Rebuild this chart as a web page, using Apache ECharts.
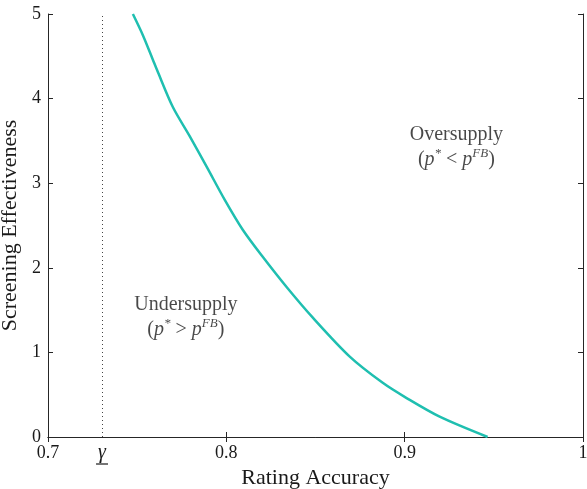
<!DOCTYPE html>
<html>
<head>
<meta charset="utf-8">
<script src="https://cdn.jsdelivr.net/npm/echarts@6/dist/echarts.min.js"></script>
<style>
  html, body { margin: 0; padding: 0; background: #fff; }
  #main { width: 587px; height: 489px; }
</style>
</head>
<body>
<div id="main"></div>
<script>
// threshold curve
const accuracy = [0.7476, 0.7532, 0.7588, 0.7611, 0.7700, 0.7796, 0.7891, 0.7992, 0.8092, 0.8204, 0.8339, 0.8485, 0.8692, 0.8877, 0.9011, 0.9196, 0.9465];
const effectiveness = [5.0, 4.75, 4.46, 4.34, 3.90, 3.55, 3.19, 2.80, 2.45, 2.13, 1.77, 1.41, 0.95, 0.64, 0.46, 0.24, 0.0];
const gammaValue = 0.7303;
// region labels: [x, y, title, relation]
const regionLabels = [
  [0.7773, 1.42, 'Undersupply', '>'],
  [0.9290, 3.43, 'Oversupply', '<']
];

const FONT = '"Liberation Serif", "DejaVu Serif", serif';
const AX = '#262626';
const TXT = '#1a1a1a';

const chart = echarts.init(document.getElementById('main'));

const axisCommon = {
  axisLine: { show: true, lineStyle: { color: AX, width: 1 } },
  axisTick: { show: true, inside: true, length: 5, lineStyle: { color: AX } },
  splitLine: { show: false }
};

const richLabel = {
  t: { fontFamily: FONT, fontSize: 20, color: TXT, lineHeight: 25 },
  n: { fontFamily: FONT, fontSize: 20, color: TXT, lineHeight: 25 },
  i: { fontFamily: FONT, fontSize: 20, fontStyle: 'italic', color: TXT, lineHeight: 25 },
  s: { fontFamily: FONT, fontSize: 13, fontStyle: 'italic', color: TXT, verticalAlign: 'top', lineHeight: 25, padding: [0, 0, 9, 0] }
};

chart.setOption({
  animation: false,
  backgroundColor: '#fff',
  grid: { left: 48, right: 4, top: 14, bottom: 52, containLabel: false, outerBoundsMode: 'none' },
  xAxis: [
    Object.assign({}, axisCommon, {
      type: 'value', position: 'bottom', min: 0.7, max: 1, interval: 0.1,
      name: 'Rating Accuracy', nameLocation: 'middle', nameGap: 27,
      nameTextStyle: { fontFamily: FONT, fontSize: 22, color: TXT },
      axisLabel: {
        fontFamily: FONT, fontSize: 18, color: TXT, margin: 7,
        formatter: v => String(+v.toFixed(1))
      }
    }),
    Object.assign({}, axisCommon, {
      type: 'value', position: 'top', min: 0.7, max: 1, interval: 0.1,
      axisLabel: { show: false }
    }),
    {
      type: 'value', position: 'bottom', min: 0.7, max: 1,
      axisLine: { show: false }, axisTick: { show: false }, splitLine: { show: false },
      axisLabel: {
        margin: 8,
        customValues: [gammaValue],
        formatter: () => '{g|γ}\n{u| }',
        rich: {
          g: { fontFamily: FONT, fontSize: 20, fontStyle: 'italic', color: TXT, lineHeight: 16, align: 'center' },
          u: { width: 12, height: 1.2, backgroundColor: TXT, lineHeight: 6, align: 'center' }
        }
      }
    }
  ],
  yAxis: [
    Object.assign({}, axisCommon, {
      type: 'value', position: 'left', min: 0, max: 5, interval: 1,
      name: 'Screening Effectiveness', nameLocation: 'middle', nameGap: 22,
      nameTextStyle: { fontFamily: FONT, fontSize: 22, color: TXT },
      axisLabel: { fontFamily: FONT, fontSize: 18, color: TXT, margin: 7 }
    }),
    Object.assign({}, axisCommon, {
      type: 'value', position: 'right', min: 0, max: 5, interval: 1,
      axisLabel: { show: false }
    })
  ],
  series: [
    {
      type: 'line',
      data: accuracy.map((x, i) => [x, effectiveness[i]]),
      smooth: 0.3,
      showSymbol: false,
      lineStyle: { color: '#1fbfb0', width: 2.5 },
      markLine: {
        silent: true, symbol: 'none', label: { show: false },
        lineStyle: { type: [1, 3], color: '#444', width: 1 },
        data: [[{ coord: [gammaValue, 0] }, { coord: [gammaValue, 5] }]]
      }
    },
    {
      type: 'scatter',
      symbolSize: 0,
      data: regionLabels.map(r => ({ value: [r[0], r[1]], rel: r[3], title: r[2] })),
      label: {
        show: true, position: 'inside', align: 'center',
        formatter: p => '{t|' + p.data.title + '}\n{n|(}{i|p}{s|*}{n| ' + p.data.rel + ' }{i|p}{s|FB}{n|)}',
        rich: richLabel
      }
    }
  ]
});
</script>
</body>
</html>
